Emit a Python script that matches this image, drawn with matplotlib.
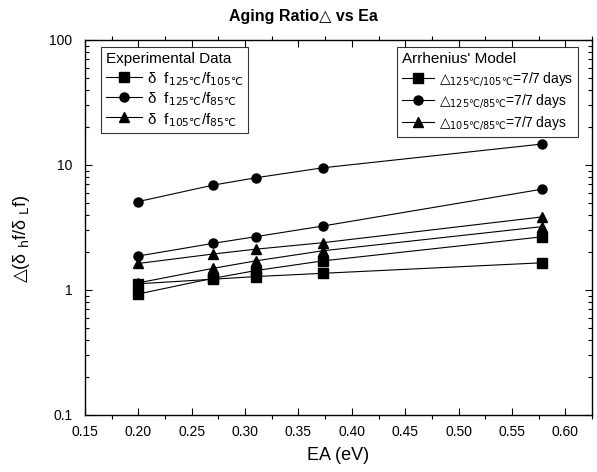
import numpy as np
import matplotlib
matplotlib.use("Agg")
import matplotlib.pyplot as plt
from matplotlib.lines import Line2D
from matplotlib.ticker import FixedLocator, FuncFormatter, LogLocator, NullFormatter

plt.rcParams["font.family"] = ["Liberation Sans", "DejaVu Sans"]
# math parts (subscripts, triangle, degree sign) come from DejaVu Sans,
# which has the ℃ and △ glyphs that Liberation Sans lacks
plt.rcParams["mathtext.fontset"] = "custom"
plt.rcParams["mathtext.rm"] = "DejaVu Sans"
plt.rcParams["mathtext.it"] = "DejaVu Sans"

# ---------------------------------------------------------------- data
ea = [0.20, 0.27, 0.31, 0.373, 0.578]

# experimental ratios
exp_125_105 = [1.12, 1.22, 1.28, 1.36, 1.65]
exp_125_85 = [5.1, 6.9, 7.9, 9.5, 14.7]
exp_105_85 = [1.14, 1.49, 1.71, 2.06, 3.21]

# Arrhenius model ratios
arr_125_105 = [0.93, 1.24, 1.43, 1.71, 2.66]
arr_125_85 = [1.87, 2.36, 2.67, 3.25, 6.4]
arr_105_85 = [1.63, 1.94, 2.12, 2.39, 3.84]

exp_labels = ["δ  f$_{125℃}$/f$_{105℃}$",
              "δ  f$_{125℃}$/f$_{85℃}$",
              "δ  f$_{105℃}$/f$_{85℃}$"]
arr_labels = ["$△_{125℃/105℃}$=7/7 days",
              "$△_{125℃/85℃}$=7/7 days",
              "$△_{105℃/85℃}$=7/7 days"]
markers = ["s", "o", "^"]

# ---------------------------------------------------------------- figure
fig = plt.figure(figsize=(5.97, 4.72), dpi=100)
ax = fig.add_axes([0.1424, 0.1208, 0.8492, 0.7945])

for ys, m in zip((exp_125_105, exp_125_85, exp_105_85), markers):
    ax.plot(ea, ys, color="black", lw=0.8, marker=m, ms=6.5)
for ys, m in zip((arr_125_105, arr_125_85, arr_105_85), markers):
    ax.plot(ea, ys, color="black", lw=0.8, marker=m, ms=6.5)

ax.set_yscale("log")
ax.set_xlim(0.15, 0.625)
ax.set_ylim(0.1, 100)
ax.xaxis.set_major_locator(FixedLocator(np.arange(0.15, 0.6001, 0.05)))
ax.xaxis.set_minor_locator(FixedLocator(np.arange(0.175, 0.626, 0.05)))
ax.xaxis.set_major_formatter(FuncFormatter(lambda v, p: f"{v:.2f}"))
ax.yaxis.set_major_locator(FixedLocator([0.1, 1, 10, 100]))
ax.yaxis.set_major_formatter(FuncFormatter(lambda v, p: f"{v:g}"))
ax.yaxis.set_minor_locator(LogLocator(base=10, subs=np.arange(2, 10)))
ax.yaxis.set_minor_formatter(NullFormatter())

ax.tick_params(which="major", direction="in", length=5, width=0.8,
               top=True, right=True, labelsize=10)
ax.tick_params(which="minor", direction="in", length=3, width=0.8,
               top=True, right=True)
ax.tick_params(axis="x", which="minor", direction="out")
ax.tick_params(axis="x", which="major", pad=7)
ax.tick_params(axis="y", which="major", pad=9)
for s in ax.spines.values():
    s.set_linewidth(1.0)

ax.set_xlabel("EA (eV)", fontsize=13, labelpad=6)
ax.set_ylabel("$△$(δ $_h$f/δ $_L$f)", fontsize=13)
ax.yaxis.set_label_coords(-0.105, 0.47)
fig.text(0.509, 0.965, "Aging Ratio△ vs Ea", ha="center", va="center",
         fontsize=11.5, fontweight="bold")


def handles():
    return [Line2D([], [], color="black", lw=0.8, marker=m, ms=6.5)
            for m in markers]


leg1 = ax.legend(handles(), exp_labels, title="Experimental Data",
                 loc="upper left", bbox_to_anchor=(0.031, 0.981),
                 fontsize=11, title_fontsize=11, frameon=True, fancybox=False,
                 edgecolor="black", handlelength=2.35, handletextpad=0.3,
                 labelspacing=0.22, borderpad=0.35, borderaxespad=0)
leg1._legend_box.align = "left"
leg1.get_frame().set_linewidth(0.8)
ax.add_artist(leg1)

leg2 = ax.legend(handles(), arr_labels, title="Arrhenius' Model",
                 loc="upper right", bbox_to_anchor=(0.972, 0.981),
                 fontsize=10, title_fontsize=11, frameon=True, fancybox=False,
                 edgecolor="black", handlelength=2.35, handletextpad=0.3,
                 labelspacing=0.3, borderpad=0.35, borderaxespad=0)
leg2._legend_box.align = "left"
leg2.get_frame().set_linewidth(0.8)

fig.savefig("out.png", dpi=100)
